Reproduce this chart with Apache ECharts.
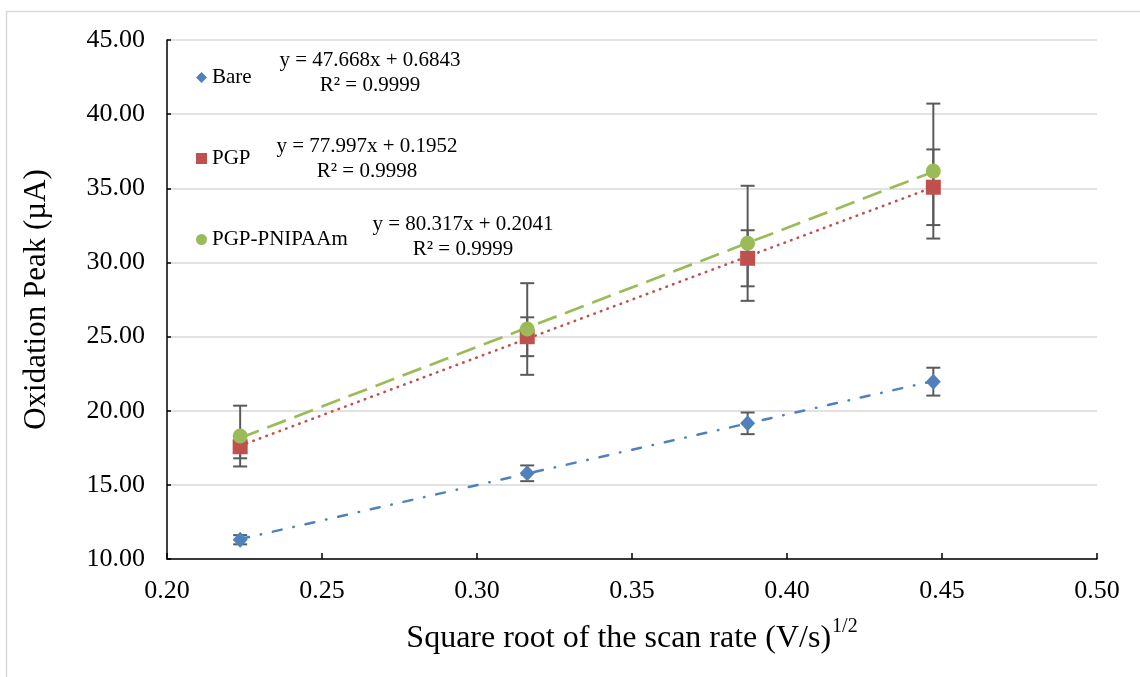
<!DOCTYPE html>
<html>
<head>
<meta charset="utf-8">
<title>Oxidation peak vs square root of scan rate</title>
<script src="https://cdn.jsdelivr.net/npm/echarts@6/dist/echarts.min.js"></script>
<style>
  html, body { margin: 0; padding: 0; background: #ffffff; }
  #chart { width: 1140px; height: 677px; }
</style>
</head>
<body>
<div id="chart"></div>
<script>
// Square root of the scan rate, (V/s)^1/2
const sqrtScanRate = [0.2236, 0.3162, 0.3873, 0.4472];

// Oxidation peak currents (µA) and their error bars
const bareValues = [11.30, 15.78, 19.15, 21.96];
const bareErrors = [0.31, 0.53, 0.73, 0.94];

const pgpValues = [17.57, 24.99, 30.28, 35.07];
const pgpErrors = [0.78, 1.31, 1.89, 2.55];

const pnipaamValues = [18.29, 25.51, 31.29, 36.16];
const pnipaamErrors = [2.05, 3.09, 3.88, 4.55];

// Linear fits: [slope, intercept, R²]
const bareFit = [47.668, 0.6843, '0.9999'];
const pgpFit = [77.997, 0.1952, '0.9998'];
const pnipaamFit = [80.317, 0.2041, '0.9999'];

// Axis ticks
const xTicks = { min: 0.20, max: 0.50, step: 0.05 };
const yTicks = { min: 10, max: 45, step: 5 };

const FONT = '"Times New Roman", "Liberation Serif", serif';
const COLORS = { bare: '#4F81BD', pgp: '#C0504D', pnipaam: '#9BBB59' };
const ERR_COLOR = '#5a5a5a';

function points(values) {
  return sqrtScanRate.map((x, i) => [x, values[i]]);
}
function errorData(values, errors) {
  return sqrtScanRate.map((x, i) => [x, values[i], errors[i]]);
}
function fitLine(fit) {
  const x0 = sqrtScanRate[0], x1 = sqrtScanRate[sqrtScanRate.length - 1];
  return [[x0, fit[0] * x0 + fit[1]], [x1, fit[0] * x1 + fit[1]]];
}
function fitText(fit) {
  return 'y = ' + fit[0].toFixed(3) + 'x + ' + fit[1].toFixed(4) + '\nR² = ' + fit[2];
}

function errorBarSeries(name, values, errors) {
  return {
    name: name,
    type: 'custom',
    z: 2,
    silent: true,
    data: errorData(values, errors),
    renderItem: function (params, api) {
      const x = api.value(0), y = api.value(1), e = api.value(2);
      const top = api.coord([x, y + e]);
      const bot = api.coord([x, y - e]);
      const half = 7;
      const style = { stroke: ERR_COLOR, lineWidth: 2 };
      return {
        type: 'group',
        children: [
          { type: 'line', shape: { x1: top[0], y1: top[1], x2: bot[0], y2: bot[1] }, style: style },
          { type: 'line', shape: { x1: top[0] - half, y1: top[1], x2: top[0] + half, y2: top[1] }, style: style },
          { type: 'line', shape: { x1: bot[0] - half, y1: bot[1], x2: bot[0] + half, y2: bot[1] }, style: style }
        ]
      };
    }
  };
}

function trendSeries(name, fit, color, dash, width, cap) {
  return {
    name: name,
    type: 'line',
    z: 3,
    silent: true,
    symbol: 'none',
    data: fitLine(fit),
    lineStyle: { color: color, width: width, type: dash, cap: cap }
  };
}

function markerSeries(name, values, symbol, size, color) {
  return {
    name: name,
    type: 'scatter',
    z: 4,
    symbol: symbol,
    symbolSize: size,
    itemStyle: { color: color, opacity: 1 },
    data: points(values)
  };
}

const chart = echarts.init(document.getElementById('chart'), null, { renderer: 'canvas' });

const eqStyle = { font: '21px ' + FONT, fill: '#000', textAlign: 'center', textVerticalAlign: 'top', lineHeight: 25 };

chart.setOption({
  backgroundColor: '#ffffff',
  animation: false,
  textStyle: { fontFamily: FONT },
  grid: { left: 167, right: 43, top: 40, bottom: 118, containLabel: false },
  legend: {
    orient: 'vertical',
    left: 191,
    top: 62,
    itemGap: 60,
    itemWidth: 11,
    itemHeight: 11,
    textStyle: { fontFamily: FONT, fontSize: 21, color: '#000', lineHeight: 21 },
    data: [
      { name: 'Bare', icon: 'diamond' },
      { name: 'PGP', icon: 'rect' },
      { name: 'PGP-PNIPAAm', icon: 'circle' }
    ]
  },
  xAxis: {
    type: 'value',
    min: xTicks.min,
    max: xTicks.max,
    interval: xTicks.step,
    name: '{t|Square root of the scan rate (V/s)}{s|1/2}',
    nameLocation: 'middle',
    nameGap: 58,
    nameTextStyle: {
      rich: {
        t: { fontFamily: FONT, fontSize: 32, color: '#000', lineHeight: 38, verticalAlign: 'bottom' },
        s: { fontFamily: FONT, fontSize: 20, color: '#000', lineHeight: 38, verticalAlign: 'top', padding: [0, 0, 6, 1] }
      }
    },
    axisLine: { show: true, lineStyle: { color: '#000', width: 1.5 } },
    axisTick: { show: true, inside: true, length: 6, lineStyle: { color: '#000', width: 1.5 } },
    axisLabel: {
      margin: 19,
      fontFamily: FONT, fontSize: 26, color: '#000',
      formatter: v => v.toFixed(2)
    },
    splitLine: { show: false }
  },
  yAxis: {
    type: 'value',
    min: yTicks.min,
    max: yTicks.max,
    interval: yTicks.step,
    name: 'Oxidation Peak (µA)',
    nameLocation: 'middle',
    nameGap: 115,
    nameTextStyle: { fontFamily: FONT, fontSize: 31, color: '#000' },
    axisLine: { show: true, lineStyle: { color: '#000', width: 1.5 } },
    axisTick: { show: true, inside: true, length: 4, lineStyle: { color: '#000', width: 1.5 } },
    axisLabel: {
      margin: 22,
      fontFamily: FONT, fontSize: 26, color: '#000',
      formatter: v => v.toFixed(2)
    },
    splitLine: { show: true, lineStyle: { color: '#d9d9d9', width: 1.5 } }
  },
  graphic: [
    {
      type: 'rect', silent: true, z: -10,
      shape: { x: 6.5, y: 11.5, width: 1200, height: 800 },
      style: { fill: 'none', stroke: '#d9d9d9', lineWidth: 1.5 }
    },
    { type: 'text', silent: true, x: 370, y: 48, style: Object.assign({ text: fitText(bareFit) }, eqStyle) },
    { type: 'text', silent: true, x: 367, y: 134, style: Object.assign({ text: fitText(pgpFit) }, eqStyle) },
    { type: 'text', silent: true, x: 463, y: 212, style: Object.assign({ text: fitText(pnipaamFit) }, eqStyle) }
  ],
  series: [
    errorBarSeries('Bare error', bareValues, bareErrors),
    errorBarSeries('PGP error', pgpValues, pgpErrors),
    errorBarSeries('PGP-PNIPAAm error', pnipaamValues, pnipaamErrors),
    trendSeries('Bare trend', bareFit, COLORS.bare, [9, 12, 0.5, 12], 2.5, 'round'),
    trendSeries('PGP trend', pgpFit, COLORS.pgp, [0.5, 6.5], 2.6, 'round'),
    trendSeries('PGP-PNIPAAm trend', pnipaamFit, COLORS.pnipaam, [20, 9], 2.7, 'butt'),
    markerSeries('Bare', bareValues, 'diamond', [15, 16], COLORS.bare),
    markerSeries('PGP', pgpValues, 'rect', 15, COLORS.pgp),
    markerSeries('PGP-PNIPAAm', pnipaamValues, 'circle', 15, COLORS.pnipaam)
  ]
});
</script>
</body>
</html>
